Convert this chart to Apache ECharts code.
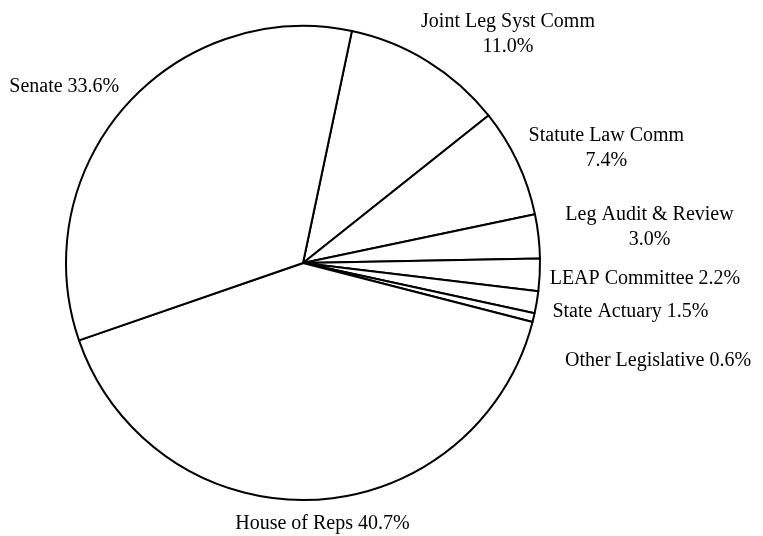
<!DOCTYPE html>
<html>
<head>
<meta charset="utf-8">
<script src="https://cdn.jsdelivr.net/npm/echarts@6/dist/echarts.min.js"></script>
<style>
  html, body { margin: 0; padding: 0; background: #fff; }
  #chart { width: 763px; height: 536px; }
</style>
</head>
<body>
<div id="chart"></div>
<script>
// Slice names, clockwise from just right of 12 o'clock
const names = ['Joint Leg Syst Comm', 'Statute Law Comm', 'Leg Audit & Review', 'LEAP Committee',
  'State Actuary', 'Other Legislative', 'House of Reps', 'Senate'];
// Share of spending (%)
const shares = [11.0, 7.4, 3.0, 2.2, 1.5, 0.6, 40.7, 33.6];
// Labels that put the percentage on a second line
const breakLine = [true, true, true, false, false, false, false, false];

const START = 78.1;     // degrees, 90 = 12 o'clock
const LINE_H = 25;

// hand placement of the labels, as in the original (dx, dy from the automatic spot)
const labelShift = {
  'Joint Leg Syst Comm': [-22, -10],
  'Statute Law Comm': [-12, -5],
  'Leg Audit & Review': [2, -7],
  'LEAP Committee': [-15, 3],
  'State Actuary': [-9, 6],
  'Other Legislative': [7, 38],
  'House of Reps': [4, 4],
  'Senate': [14, -6]
};

const chart = echarts.init(document.getElementById('chart'));

const pieData = names.map((n, i) => ({ name: n, value: shares[i] }));

// angle (clockwise from top) of each slice's middle
const total = shares.reduce((a, b) => a + b, 0);
let acc = 0;
const midAngle = shares.map(v => {
  const a = (90 - START) + (acc + v / 2) / total * 360;
  acc += v;
  return a;
});

chart.setOption({
  backgroundColor: '#ffffff',
  animation: false,
  series: [
    {
      type: 'pie',
      center: [303, 263],
      radius: 237,
      startAngle: START,
      clockwise: true,
      avoidLabelOverlap: false,
      data: pieData,
      itemStyle: {
        color: '#ffffff',
        borderColor: '#000000',
        borderWidth: 2
      },
      emphasis: { disabled: true },
      label: {
        show: true,
        position: 'outside',
        overflow: 'none',
        bleedMargin: 0,
        color: '#000000',
        fontFamily: 'Liberation Serif',
        fontSize: 20,
        lineHeight: LINE_H,
        formatter: function (p) {
          const sep = breakLine[p.dataIndex] ? '\n' : ' ';
          return p.name + sep + p.value.toFixed(1) + '%';
        }
      },
      labelLine: { show: false, length: 20, length2: 0 },
      labelLayout: function (params) {
        const r = params.labelRect;
        const i = params.dataIndex;
        const s = labelShift[names[i]] || [0, 0];
        let cx = r.x + r.width / 2;
        const cy = r.y + r.height / 2;
        // bottom label sits centred under its slice
        if (Math.abs(Math.sin(midAngle[i] * Math.PI / 180)) < 0.2) cx = r.x;
        return { x: cx + s[0], y: cy + s[1], align: 'center', verticalAlign: 'middle' };
      }
    }
  ]
});
</script>
</body>
</html>
